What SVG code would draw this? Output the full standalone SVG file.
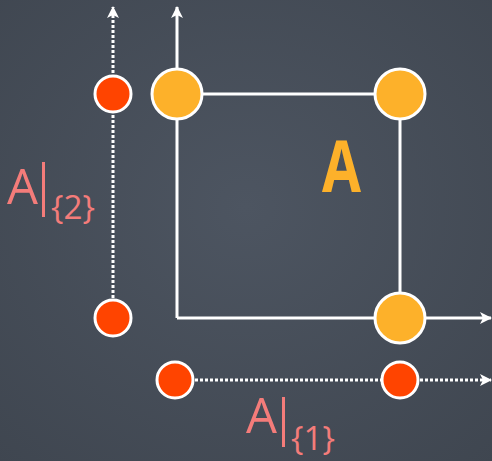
<svg xmlns="http://www.w3.org/2000/svg" width="492" height="461" viewBox="0 0 492 461">
<defs>
<style>
.axis{stroke:#fff;stroke-width:3;fill:none}
.dot{stroke:#fff;stroke-width:3;fill:none;stroke-dasharray:3 2}
.red{fill:#ff4400;stroke:#fff;stroke-width:3}
.org{fill:#fdb12a;stroke:#fff;stroke-width:3}
.lbl{fill:#f47c7a;font-family:"Open Sans","Liberation Sans",sans-serif}
</style>
<marker id="ah" viewBox="0 0 12 12" refX="11" refY="6" markerWidth="12" markerHeight="12" markerUnits="userSpaceOnUse" orient="auto">
<path d="M0,0 L12,6 L0,12 L3,6 Z" fill="#fff"/>
</marker>
<radialGradient id="bg" cx="50%" cy="45%" r="75%">
<stop offset="0" stop-color="#4d5561"/>
<stop offset="1" stop-color="#3f4650"/>
</radialGradient>
</defs>
<rect width="492" height="461" fill="url(#bg)"/>
<g id="connectors">
<line class="dot" x1="113" y1="318" x2="113" y2="7" marker-end="url(#ah)"/>
<line class="dot" x1="175" y1="380" x2="491" y2="380" marker-end="url(#ah)"/>
<line class="axis" x1="177" y1="318" x2="177" y2="7" marker-end="url(#ah)"/>
<line class="axis" x1="177" y1="318" x2="491" y2="318" marker-end="url(#ah)"/>
<polyline class="axis" points="177,94 400,94 400,318"/>
</g>
<g id="n-red-2a"><circle class="red" cx="113" cy="94" r="18"/></g>
<g id="n-red-2b"><circle class="red" cx="113" cy="318" r="18"/></g>
<g id="n-red-1a"><circle class="red" cx="175" cy="380" r="18"/></g>
<g id="n-red-1b"><circle class="red" cx="400" cy="380" r="18"/></g>
<g id="n-org-tl"><circle class="org" cx="177" cy="94" r="25"/></g>
<g id="n-org-tr"><circle class="org" cx="400" cy="94" r="25"/></g>
<g id="n-org-br"><circle class="org" cx="400" cy="318" r="25"/></g>
<g id="label-A"><text x="322" y="192" font-family="'Open Sans','Liberation Sans',sans-serif" font-weight="bold" font-size="71" fill="#fdb12a" textLength="39" lengthAdjust="spacingAndGlyphs">A</text></g>
<g id="label-A2">
<text class="lbl" x="7" y="204" font-size="49">A</text>
<rect x="42" y="162" width="3" height="55" fill="#f47c7a"/>
<text class="lbl" x="51" y="219" font-size="32" textLength="44" lengthAdjust="spacingAndGlyphs">{2}</text>
</g>
<g id="label-A1">
<text class="lbl" x="246" y="433" font-size="49">A</text>
<rect x="282" y="397" width="3" height="50" fill="#f47c7a"/>
<text class="lbl" x="291" y="450" font-size="32" textLength="44" lengthAdjust="spacingAndGlyphs">{1}</text>
</g>
</svg>
